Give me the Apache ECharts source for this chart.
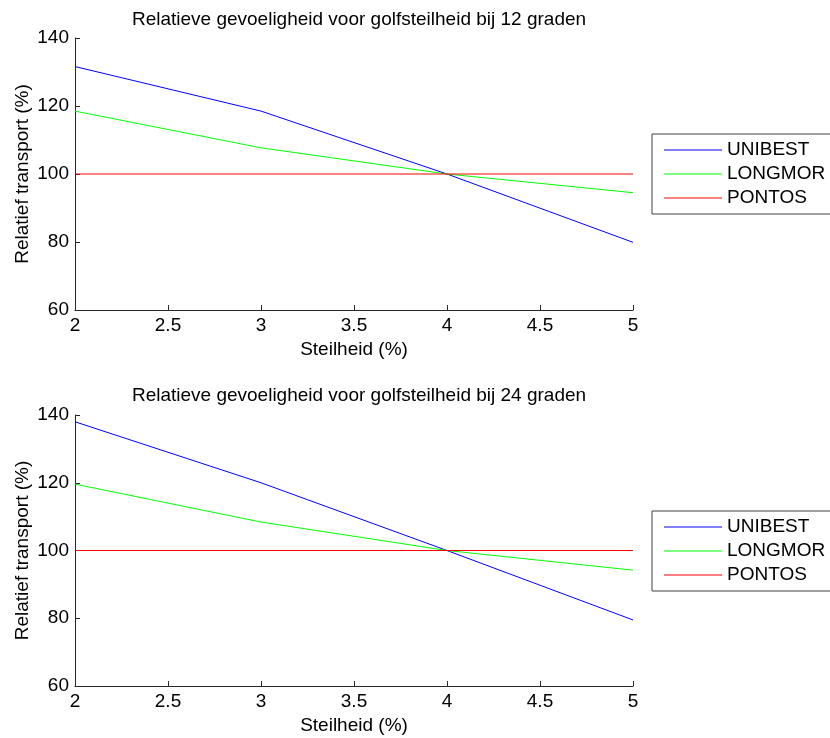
<!DOCTYPE html>
<html>
<head>
<meta charset="utf-8">
<script src="https://cdn.jsdelivr.net/npm/echarts@6/dist/echarts.min.js"></script>
<style>
html,body{margin:0;padding:0;background:#fff;}
#chart{width:830px;height:738px;}
</style>
</head>
<body>
<div id="chart"></div>
<script>
// Data
const steepness = [2, 3, 4, 5];
const seriesNames = ['UNIBEST', 'LONGMOR', 'PONTOS'];
const top12Unibest = [131.6, 118.5, 100, 79.9];
const top12Longmor = [118.5, 107.7, 100, 94.5];
const top12Pontos  = [100, 100, 100, 100];
const bot24Unibest = [138.0, 120.0, 100, 79.5];
const bot24Longmor = [119.6, 108.4, 100, 94.2];
const bot24Pontos  = [100, 100, 100, 100];
const titles = ['Relatieve gevoeligheid voor golfsteilheid bij 12 graden',
                'Relatieve gevoeligheid voor golfsteilheid bij 24 graden'];
const xName = 'Steilheid (%)';
const yName = 'Relatief transport (%)';

const colors = ['#0000ff', '#00ff00', '#ff0000'];
const FONT = '"Liberation Sans", Arial, sans-serif';
const FS = 19;
const pair = (ys) => steepness.map((x, i) => [x, ys[i]]);

const grids = [
  {left: 75, top: 38, width: 558, height: 272},
  {left: 75, top: 415, width: 558, height: 271}
];

function xAxis(gi) {
  return {
    type: 'value', gridIndex: gi, min: 2, max: 5, interval: 0.5,
    name: xName, nameLocation: 'middle', nameGap: 30, nameMoveOverlap: false,
    nameTextStyle: {fontFamily: FONT, fontSize: FS, color: '#000'},
    axisLine: {onZero: false, lineStyle: {color: '#262626', width: 1}},
    axisTick: {inside: true, length: 5, lineStyle: {color: '#262626'}},
    axisLabel: {fontFamily: FONT, fontSize: FS, color: '#000', margin: 6},
    splitLine: {show: false}
  };
}
function yAxis(gi) {
  return {
    type: 'value', gridIndex: gi, min: 60, max: 140, interval: 20,
    name: yName, nameLocation: 'middle', nameGap: 43, nameRotate: 90, nameMoveOverlap: false,
    nameTextStyle: {fontFamily: FONT, fontSize: FS, color: '#000'},
    axisLine: {show: true, onZero: false, lineStyle: {color: '#262626', width: 1}},
    axisTick: {show: true, inside: true, length: 5, lineStyle: {color: '#262626'}},
    axisLabel: {fontFamily: FONT, fontSize: FS, color: '#000', margin: 6},
    splitLine: {show: false}
  };
}
function lineSeries(name, ys, gi, ci) {
  return {
    name: name, type: 'line', xAxisIndex: gi, yAxisIndex: gi,
    data: pair(ys), symbol: 'none', showSymbol: false, silent: true,
    color: colors[ci], lineStyle: {color: colors[ci], width: 1}, animation: false
  };
}
function legend(top) {
  return {
    orient: 'vertical', left: 652, top: top, selectedMode: false,
    data: seriesNames, icon: 'rect', itemWidth: 58, itemHeight: 1, itemGap: 0,
    padding: [4, 20, 4, 12], borderColor: '#404040', borderWidth: 1,
    textStyle: {fontFamily: FONT, fontSize: FS, color: '#000', lineHeight: 24}
  };
}

const chart = echarts.init(document.getElementById('chart'), null, {renderer: 'canvas'});
chart.setOption({
  animation: false,
  backgroundColor: '#fff',
  title: [
    {text: titles[0], left: 354, top: 5, textAlign: 'center',
     textStyle: {fontFamily: FONT, fontSize: FS, fontWeight: 'normal', color: '#000'}},
    {text: titles[1], left: 354, top: 381, textAlign: 'center',
     textStyle: {fontFamily: FONT, fontSize: FS, fontWeight: 'normal', color: '#000'}}
  ],
  legend: [legend(134), legend(511)],
  grid: grids,
  xAxis: [xAxis(0), xAxis(1)],
  yAxis: [yAxis(0), yAxis(1)],
  series: [
    lineSeries('UNIBEST', top12Unibest, 0, 0),
    lineSeries('LONGMOR', top12Longmor, 0, 1),
    lineSeries('PONTOS', top12Pontos, 0, 2),
    lineSeries('UNIBEST', bot24Unibest, 1, 0),
    lineSeries('LONGMOR', bot24Longmor, 1, 1),
    lineSeries('PONTOS', bot24Pontos, 1, 2)
  ]
});
</script>
</body>
</html>
